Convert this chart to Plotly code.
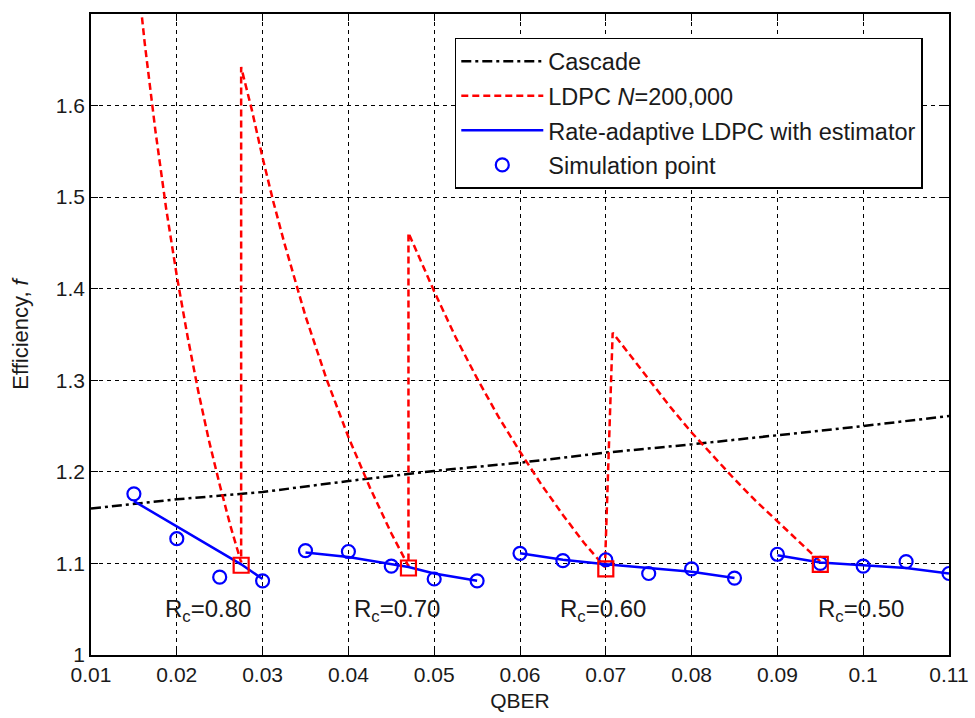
import plotly.graph_objects as go

# Cascade reconciliation efficiency
cascade_qber = [0.01, 0.02, 0.03, 0.04, 0.05, 0.06, 0.07, 0.08, 0.09, 0.10, 0.11]
cascade_eff = [1.160, 1.170, 1.178, 1.190, 1.201, 1.210, 1.221, 1.230, 1.240, 1.250, 1.261]

# Fixed-rate LDPC codes (N=200,000), sawtooth over the four code rates
ldpc_qber = [0.015, 0.01625, 0.0175, 0.01875, 0.02, 0.02125, 0.0225, 0.02375, 0.025, 0.02625, 0.0275,
             0.0275, 0.02875, 0.03, 0.03125, 0.0325, 0.035, 0.0375, 0.04, 0.0425, 0.045, 0.047,
             0.047, 0.05, 0.0525, 0.055, 0.0575, 0.06, 0.0625, 0.065, 0.0675, 0.0699,
             0.0708, 0.075, 0.0775, 0.08, 0.0825, 0.085, 0.0875, 0.09, 0.0925, 0.095]
ldpc_eff = [1.780, 1.669, 1.573, 1.488, 1.414, 1.348, 1.288, 1.234, 1.186, 1.141, 1.101,
            1.642, 1.595, 1.543, 1.495, 1.451, 1.370, 1.300, 1.238, 1.183, 1.133, 1.097,
            1.461, 1.397, 1.347, 1.302, 1.260, 1.222, 1.186, 1.153, 1.122, 1.096,
            1.352, 1.301, 1.271, 1.243, 1.217, 1.192, 1.168, 1.146, 1.124, 1.102]

# Code-rate switching points
switch_qber = [0.0275, 0.047, 0.070, 0.095]
switch_eff = [1.098, 1.095, 1.094, 1.099]

# Rate-adaptive LDPC with estimator (one segment per mother code rate)
ra_qber = [0.015, 0.0275, 0.03, None,
           0.035, 0.04, 0.047, 0.05, 0.055, None,
           0.06, 0.065, 0.07, 0.075, 0.08, 0.085, None,
           0.09, 0.095, 0.10, 0.105, 0.11]
ra_eff = [1.168, 1.099, 1.083, None,
          1.112, 1.107, 1.096, 1.089, 1.081, None,
          1.111, 1.104, 1.099, 1.095, 1.091, 1.084, None,
          1.109, 1.101, 1.098, 1.095, 1.089]

# Simulation points
sim_qber = [0.015, 0.02, 0.025, 0.03,
            0.035, 0.04, 0.045, 0.05, 0.055,
            0.06, 0.065, 0.07, 0.075, 0.08, 0.085,
            0.09, 0.095, 0.10, 0.105, 0.11]
sim_eff = [1.176, 1.127, 1.085, 1.081,
           1.114, 1.113, 1.097, 1.083, 1.081,
           1.111, 1.103, 1.104, 1.089, 1.094, 1.084,
           1.110, 1.100, 1.097, 1.102, 1.089]

# Mother code rate labels
rate_labels = ["0.80", "0.70", "0.60", "0.50"]
rate_label_x = [0.0236, 0.0457, 0.0697, 0.0998]
rate_label_y = [1.049, 1.049, 1.049, 1.049]

x_ticks = [0.01, 0.02, 0.03, 0.04, 0.05, 0.06, 0.07, 0.08, 0.09, 0.10, 0.11]
x_ticktext = ["0.01", "0.02", "0.03", "0.04", "0.05", "0.06", "0.07", "0.08", "0.09", "0.1", "0.11"]
y_ticks = [1.0, 1.1, 1.2, 1.3, 1.4, 1.5, 1.6]
y_ticktext = ["1", "1.1", "1.2", "1.3", "1.4", "1.5", "1.6"]

FONT = "Liberation Sans, Arial, sans-serif"
TXT = "#1a1a1a"

fig = go.Figure()

fig.add_trace(go.Scatter(
    x=cascade_qber, y=cascade_eff, mode="lines", name="Cascade",
    line=dict(color="black", width=2.5, dash="10px,4px,3px,4px"),
    legendgroup="a",
))
fig.add_trace(go.Scatter(
    x=ldpc_qber, y=ldpc_eff, mode="lines", name="LDPC <i>N</i>=200,000",
    line=dict(color="#ff0000", width=2.5, dash="7px,4px"),
    legendgroup="b",
))
fig.add_trace(go.Scatter(
    x=ra_qber, y=ra_eff, mode="lines", name="Rate-adaptive LDPC with estimator",
    line=dict(color="#0000ff", width=2.5), connectgaps=False,
    legendgroup="c",
))
fig.add_trace(go.Scatter(
    x=sim_qber, y=sim_eff, mode="markers", name="Simulation point",
    marker=dict(symbol="circle-open", size=13, color="#0000ff", line=dict(width=2.2)),
    legendgroup="d",
))
fig.add_trace(go.Scatter(
    x=switch_qber, y=switch_eff, mode="markers", showlegend=False,
    marker=dict(symbol="square-open", size=15, color="#ff0000", line=dict(width=2.2)),
))

for lab, lx, ly in zip(rate_labels, rate_label_x, rate_label_y):
    fig.add_annotation(
        x=lx, y=ly, xref="x", yref="y", showarrow=False,
        text="R<sub>c</sub>=" + lab,
        font=dict(family=FONT, size=24, color=TXT),
        xanchor="center", yanchor="middle",
    )

axis_common = dict(
    showline=True, linecolor="black", linewidth=1.5, mirror="ticks",
    ticks="inside", ticklen=7, tickwidth=1.2, tickcolor="black",
    showgrid=True, gridcolor="black", gridwidth=1, griddash="4px,4px",
    zeroline=False, automargin=False,
    tickfont=dict(family=FONT, size=21, color=TXT),
)

fig.update_xaxes(
    range=[0.01, 0.11], tickvals=x_ticks, ticktext=x_ticktext,
    title=dict(text="QBER", font=dict(family=FONT, size=21, color=TXT), standoff=8),
    **axis_common,
)
fig.update_yaxes(
    range=[1.0, 1.7], tickvals=y_ticks, ticktext=y_ticktext,
    title=dict(text="Efficiency, <i>f</i>", font=dict(family=FONT, size=22, color=TXT), standoff=21),
    **axis_common,
)

fig.update_layout(
    width=975, height=718,
    margin=dict(l=91, r=26, t=14, b=63),
    paper_bgcolor="white", plot_bgcolor="white",
    font=dict(family=FONT, color=TXT),
    legend=dict(
        x=0.424, y=0.9626, xanchor="left", yanchor="top",
        bgcolor="white", bordercolor="black", borderwidth=1.5,
        font=dict(family=FONT, size=23.5, color=TXT),
        tracegroupgap=1, itemwidth=82,
    ),
    showlegend=True,
)

fig.write_html("out.html")
